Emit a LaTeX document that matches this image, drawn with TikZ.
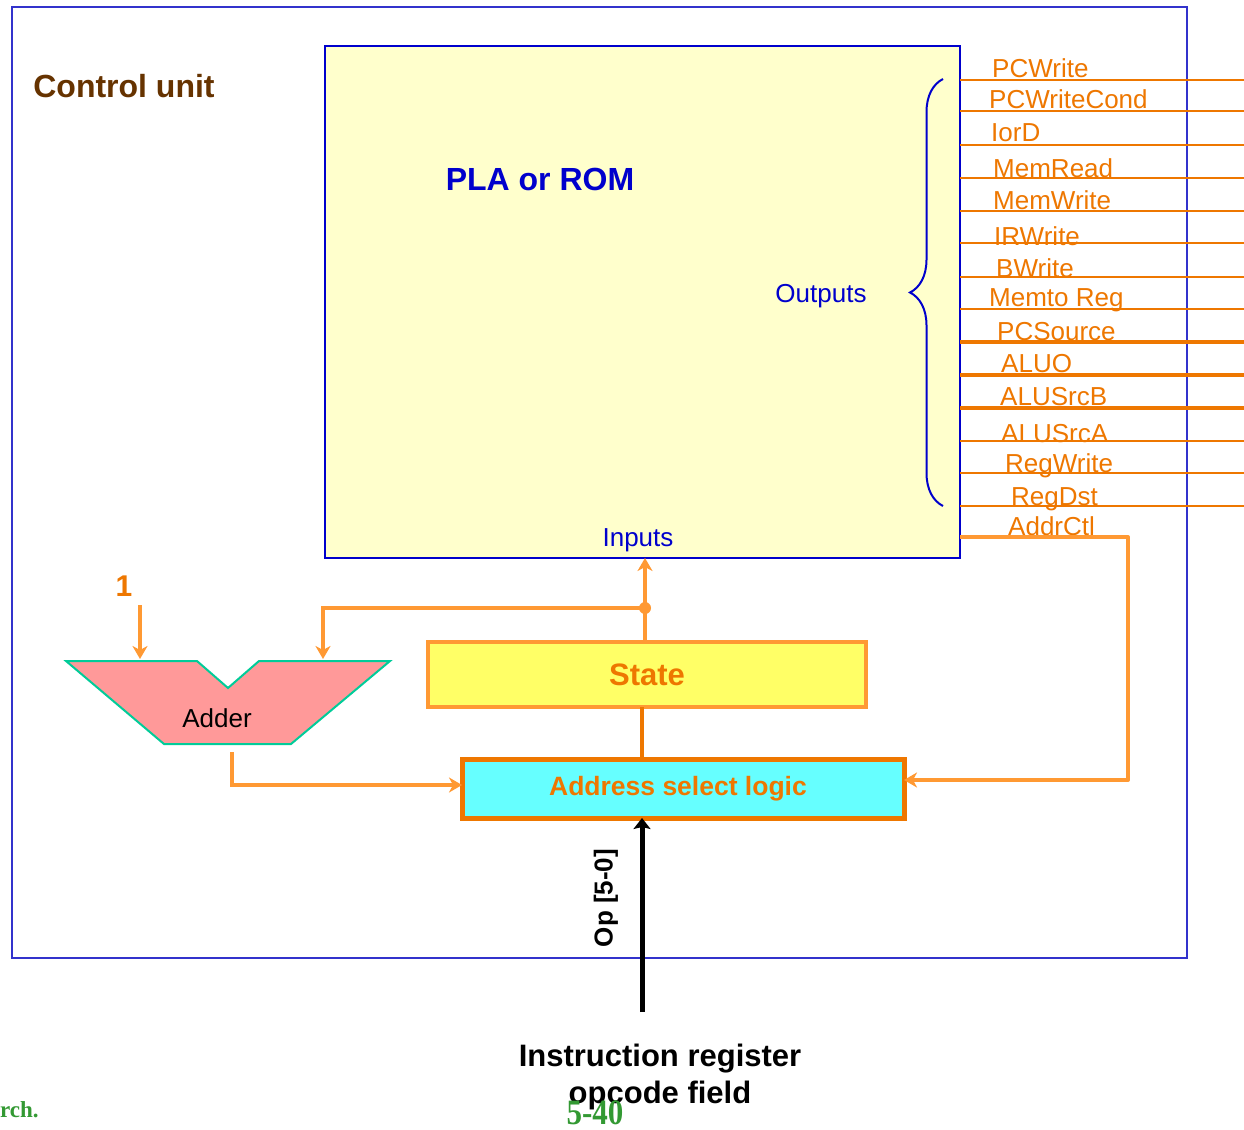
\documentclass[tikz,border=0pt]{standalone}
\usepackage{fontspec}
\setmainfont{Liberation Sans}
\newfontfamily\footfont{Liberation Serif}
\usetikzlibrary{arrows.meta,decorations.pathreplacing}
\definecolor{FrameBlue}{HTML}{3333CC}
\definecolor{RomBlue}{HTML}{0000CC}
\definecolor{RomFill}{HTML}{FFFFCC}
\definecolor{SigOrange}{HTML}{EE7700}
\definecolor{WireOrange}{HTML}{FF9933}
\definecolor{CtrlBrown}{HTML}{663300}
\definecolor{StateFill}{HTML}{FFFF66}
\definecolor{SelFill}{HTML}{66FFFF}
\definecolor{AddFill}{HTML}{FF9999}
\definecolor{AddEdge}{HTML}{00CC99}
\definecolor{FootGreen}{HTML}{339933}
\newcommand{\fsz}[1]{\fontsize{#1}{#1}\selectfont}

\begin{document}
\begin{tikzpicture}[x=1pt,y=-1pt,
  box/.style={draw, inner sep=0pt, outer sep=0pt},
  wire/.style={WireOrange, line width=4pt},
  wirearrow/.style={wire, -{Stealth[length=13pt,width=15pt,inset=4pt]}},
  siglab/.style={text=SigOrange, anchor=base west, inner sep=0pt, font=\fsz{26}},
  bluelab/.style={text=RomBlue, inner sep=0pt}]
\fill[white] (0,0) rectangle (1244,1129);
\useasboundingbox (0,0) rectangle (1244,1129);

% control unit frame and PLA
\node (cu) [box, FrameBlue, line width=2pt, minimum width=1175pt, minimum height=951pt] at (599.5,482.5) {};
\node (cutitle) [text=CtrlBrown, font=\bfseries\fsz{32}, inner sep=0pt] at (124,86) {Control unit};
\node (pla) [box, RomBlue, fill=RomFill, line width=2pt, minimum width=635pt, minimum height=512pt] at (642.5,302) {};
\node (platitle) [bluelab, font=\bfseries\fsz{32}] at (540,179) {PLA or ROM};
\node (outlab) [bluelab, font=\fsz{26}] at (821,296) {Outputs};
\node (inlab) [bluelab, font=\fsz{26}] at (638,540) {Inputs};
\draw[RomBlue, line width=2pt, decorate, decoration={brace, amplitude=33pt}] (943,506) -- (943,79);

% output signals
\foreach \ly/\lx/\ty/\lab/\lw in {80/992/78/PCWrite/2, 111/989/109/PCWriteCond/2,
    145/991/141/IorD/2, 178/993/177/MemRead/2, 211/993/209/MemWrite/2,
    243/994/245/IRWrite/2, 277/996/277/BWrite/2, 309/989/306/Memto Reg/2,
    342/997/340/PCSource/4, 375/1001/372/ALUO/4, 408/1000/405/ALUSrcB/4,
    441/1001/442/ALUSrcA/2, 473/1005/472/RegWrite/2, 506/1011/505/RegDst/2}{
  \coordinate (out\ly) at (1244,\ly);
  \draw[SigOrange, line width=\lw pt] (pla.east |- out\ly) -- (out\ly);
  \node (lab\ly) [siglab] at (\lx,\ty) {\lab};
}
\node (addrctl) [siglab] at (1008,535) {AddrCtl};

% adder
\draw[AddEdge, fill=AddFill, line width=2pt, line join=miter]
  (66,661) -- (197,661) -- (228,688) -- (259,661) -- (390,661) -- (291,744) -- (164,744) -- cycle;
\node (adder) [inner sep=0pt, font=\fsz{26}] at (217,718) {Adder};
\node (one) [text=SigOrange, font=\bfseries\fsz{30}, inner sep=0pt] at (124,586) {1};

% state and address select logic
\node (state) [box, draw=WireOrange, fill=StateFill, line width=4pt, minimum width=438pt, minimum height=65pt,
  text=SigOrange, font=\bfseries\fsz{31}] at (647,674.5) {State};
\node (asl) [box, draw=SigOrange, fill=SelFill, line width=5pt, minimum width=442pt, minimum height=59pt,
  text=SigOrange, font=\bfseries\fsz{26.5}] at (683,788.5) {Address select logic\hspace*{10pt}};

% wires
\coordinate (jn) at (645,608);
\coordinate (addin) at (323,659);
\coordinate (onesrc) at (140,605);
\coordinate (addout) at (232,752);
\coordinate (addbend) at (232,785);
\coordinate (ctltop) at (1128,537);
\coordinate (ctlbot) at (1128,780);
\coordinate (sl) at (642,0);
\draw[wirearrow] (jn |- state.north) -- (jn |- pla.south);
\fill[WireOrange] (jn) circle (6pt);
\draw[wirearrow] (jn) -| (addin);
\draw[wirearrow] (onesrc) -- (onesrc |- addin);
\draw[wirearrow] (addout) -- (addbend) -- (asl.west |- addbend);
\draw[wirearrow, line join=round] (pla.east |- ctltop) -- (ctltop) -- (ctlbot) -- (asl.east |- ctlbot);
\draw[SigOrange, line width=4pt] (state.south -| sl) -- (asl.north -| sl);

% opcode input
\coordinate (opsrc) at (642,1012);
\draw[black, line width=5pt, -{Stealth[length=11pt,width=17pt,inset=2pt]}] (opsrc) -- (opsrc |- asl.south);
\node (oplab) [rotate=90, font=\bfseries\fsz{26}, inner sep=0pt] at (606,898) {Op [5-0]};
\node (irlab) [align=center, font=\bfseries\fontsize{31}{37}\selectfont, inner sep=0pt] at (660,1076.5)
  {Instruction register\\opcode field};

% slide footer
\node (pagenum) [text=FootGreen, font=\footfont\bfseries\fsz{31}, inner sep=0pt, yscale=1.15] at (595,1113) {5-40};
\node (footl) [text=FootGreen, font=\footfont\bfseries\fsz{23}, inner sep=0pt, anchor=west] at (0,1110) {rch.};
\end{tikzpicture}
\end{document}
